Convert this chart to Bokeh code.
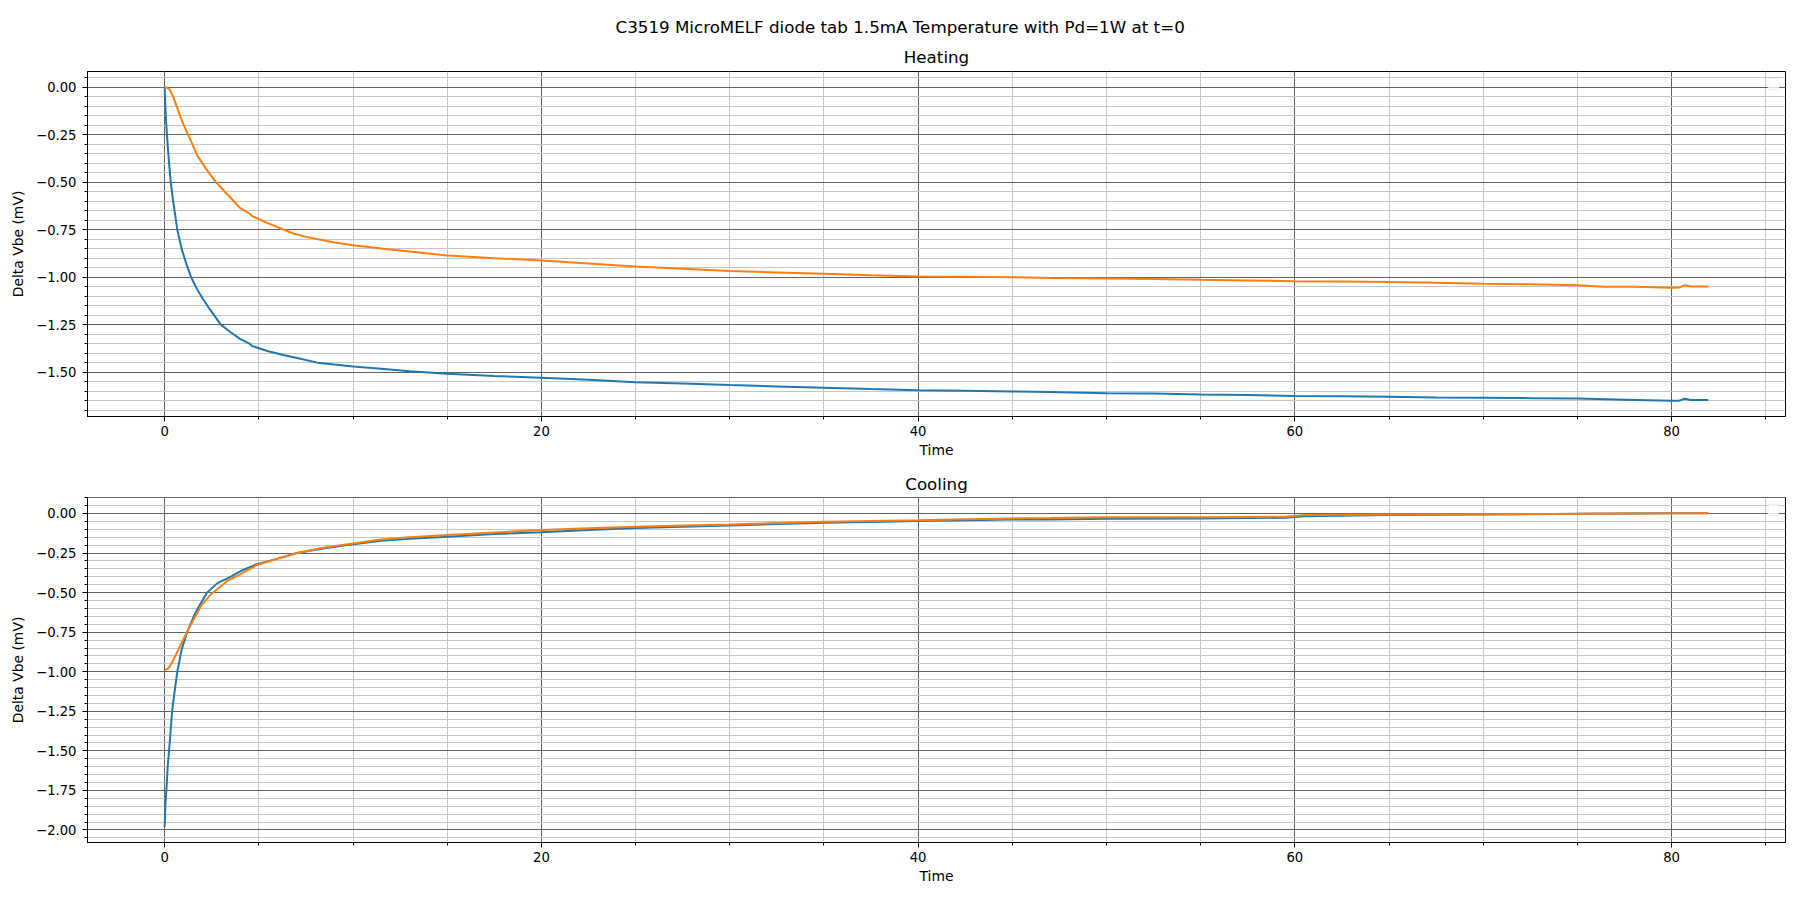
from bokeh.plotting import figure
from bokeh.layouts import column
from bokeh.models import (Title, Range1d, SingleIntervalTicker, CustomJSTickFormatter,
                          BoxAnnotation)
from bokeh.embed import file_html
from bokeh.resources import INLINE

SUPTITLE = "C3519 MicroMELF diode tab 1.5mA Temperature with Pd=1W at t=0"
TITLES = ["Heating", "Cooling"]
XLABEL = "Time"
YLABEL = "Delta Vbe (mV)"

# ---- Heating, blue series ----
heat_blue_t = [0, 0.03, 0.07, 0.12, 0.2, 0.32, 0.45, 0.67, 0.9, 1.15, 1.4, 1.7, 2.0, 2.4,
               2.98, 3.5, 4.0, 4.5, 4.65, 5.5, 6.3, 7.2, 8.1, 9.0, 10.0, 11.5, 13, 15, 17.5,
               20, 22.5, 25, 27.5, 30, 32.5, 35, 37.5, 40, 42.5, 45, 47, 50, 52.5, 55, 57.5,
               60, 62.5, 65, 67.5, 70, 72.5, 75, 77.5, 80, 80.4, 80.7, 81.0, 81.95]
heat_blue_v = [0, -0.09, -0.17, -0.25, -0.36, -0.5, -0.6, -0.75, -0.85, -0.93, -1.0, -1.06,
               -1.11, -1.17, -1.25, -1.29, -1.325, -1.35, -1.363, -1.39, -1.41, -1.43, -1.45,
               -1.46, -1.47, -1.482, -1.495, -1.509, -1.52, -1.53, -1.54, -1.553, -1.56,
               -1.568, -1.575, -1.582, -1.589, -1.595, -1.598, -1.602, -1.605, -1.611,
               -1.613, -1.618, -1.621, -1.625, -1.627, -1.630, -1.633, -1.635, -1.637,
               -1.639, -1.645, -1.651, -1.650, -1.640, -1.647, -1.647]

# ---- Heating, orange series ----
heat_orange_t = [0, 0.15, 0.26, 0.44, 0.7, 0.96, 1.26, 1.75, 2.2, 2.72, 3.33, 4.0, 4.5, 4.65,
                 5.44, 6.3, 6.84, 7.5, 8.95, 10, 11.5, 13, 15, 17.5, 20, 22.5, 25, 27.5, 30,
                 32.5, 35, 37.5, 40, 42.5, 45, 47, 50, 52.5, 55, 57.5, 60, 62.5, 65, 67.5,
                 70, 72.5, 75, 76.4, 78, 80, 80.4, 80.7, 81, 81.95]
heat_orange_v = [0, -0.003, -0.012, -0.047, -0.118, -0.188, -0.254, -0.363, -0.43, -0.5,
                 -0.565, -0.635, -0.665, -0.679, -0.714, -0.749, -0.77, -0.788, -0.816,
                 -0.832, -0.849, -0.865, -0.886, -0.90, -0.912, -0.928, -0.944, -0.956,
                 -0.968, -0.975, -0.982, -0.99, -0.996, -0.998, -1.0, -1.004, -1.007, -1.01,
                 -1.014, -1.017, -1.021, -1.023, -1.026, -1.03, -1.035, -1.038, -1.042,
                 -1.05, -1.051, -1.056, -1.055, -1.042, -1.049, -1.049]

# ---- Cooling, blue series ----
cool_blue_t = [0, 0.02, 0.05, 0.1, 0.16, 0.23, 0.3, 0.39, 0.5, 0.67, 0.9, 1.19, 1.58, 1.9,
               2.25, 2.8, 3.42, 4.1, 4.91, 6.0, 7.02, 8.5, 10, 11.5, 13, 15, 17.5, 20, 22.5,
               25, 27.5, 30, 32.5, 35, 37.5, 40, 42.5, 45, 47, 50, 55, 59.5, 60.5, 65, 70,
               75, 80, 81.95]
cool_blue_v = [-1.98, -1.9, -1.82, -1.73, -1.6, -1.5, -1.4, -1.25, -1.15, -1.0, -0.86,
               -0.75, -0.64, -0.57, -0.5, -0.44, -0.405, -0.36, -0.32, -0.285, -0.25,
               -0.22, -0.195, -0.172, -0.16, -0.147, -0.13, -0.118, -0.104, -0.092, -0.084,
               -0.076, -0.067, -0.059, -0.053, -0.048, -0.042, -0.038, -0.038, -0.033,
               -0.031, -0.027, -0.017, -0.01, -0.006, -0.002, 0.002, 0.002]

# ---- Cooling, orange series ----
cool_orange_t = [0, 0.1, 0.18, 0.3, 0.44, 0.7, 1.05, 1.4, 1.93, 2.46, 3.33, 4.0, 4.91, 6.0,
                 7.02, 8.5, 10, 11.5, 13, 15, 17.5, 20, 22.5, 25, 27.5, 30, 32.5, 35, 37.5,
                 40, 42.5, 45, 47, 50, 55, 59.5, 60.5, 65, 70, 75, 80, 81.95]
cool_orange_v = [-0.987, -0.985, -0.98, -0.96, -0.93, -0.867, -0.78, -0.70, -0.584, -0.51,
                 -0.426, -0.384, -0.325, -0.285, -0.25, -0.215, -0.19, -0.164, -0.15,
                 -0.136, -0.12, -0.105, -0.094, -0.084, -0.076, -0.069, -0.06, -0.052,
                 -0.047, -0.042, -0.036, -0.031, -0.029, -0.023, -0.023, -0.02, -0.01,
                 -0.006, -0.004, -0.002, 0.002, 0.002]

BLUE = "#1f77b4"
ORANGE = "#ff7f0e"
FONT = "DejaVu Sans"

yfmt_code = """
var s = Math.abs(tick) < 1e-9 ? (0).toFixed(2) : tick.toFixed(2);
return s.replace('-', '\\u2212');
"""

FIG_W = 1796
BORDER_L = 87
BORDER_R = 11
FRAME_W = FIG_W - BORDER_L - BORDER_R


def padded(vals_list):
    lo = min(min(v) for v in vals_list)
    hi = max(max(v) for v in vals_list)
    pad = (hi - lo) * 0.05
    return lo - pad, hi + pad


def make_fig(height, min_top, min_bottom, series):
    xs = [s[0] for s in series]
    ys = [s[1] for s in series]
    x0, x1 = padded(xs)
    y0, y1 = padded(ys)
    p = figure(width=FIG_W, height=height, output_backend="svg", toolbar_location=None,
               x_range=Range1d(x0, x1), y_range=Range1d(y0, y1),
               min_border_left=BORDER_L, min_border_right=BORDER_R,
               min_border_top=min_top, min_border_bottom=min_bottom,
               title=None)
    p.background_fill_color = "white"
    p.border_fill_color = "white"
    p.outline_line_color = "black"
    p.outline_line_width = 1
    p.outline_line_alpha = 1

    p.xaxis.ticker = SingleIntervalTicker(interval=20, num_minor_ticks=4)
    p.yaxis.ticker = SingleIntervalTicker(interval=0.25, num_minor_ticks=5)
    p.yaxis.formatter = CustomJSTickFormatter(code=yfmt_code)

    for ax in (p.xaxis[0], p.yaxis[0]):
        ax.axis_line_color = "black"
        ax.major_tick_line_color = "black"
        ax.minor_tick_line_color = "black"
        ax.major_tick_out = 5
        ax.major_tick_in = 0
        ax.minor_tick_out = 3
        ax.minor_tick_in = 0
        ax.major_label_text_font = FONT
        ax.major_label_text_font_size = "13.2px"
        ax.major_label_text_color = "black"
        ax.axis_label_text_font = FONT
        ax.axis_label_text_font_size = "13.9px"
        ax.axis_label_text_font_style = "normal"
        ax.axis_label_text_color = "black"
    p.xaxis.axis_label = XLABEL
    p.yaxis.axis_label = YLABEL
    p.xaxis.major_label_standoff = 4
    p.xaxis.axis_label_standoff = 3
    p.yaxis.major_label_standoff = 6
    p.yaxis.axis_label_standoff = 7

    for g in (p.xgrid[0], p.ygrid[0]):
        g.grid_line_color = "#636363"
        g.grid_line_width = 1
        g.minor_grid_line_color = "#c6c6c6"
        g.minor_grid_line_width = 1

    for (t, v), c in zip(series, [BLUE, ORANGE]):
        p.line(t, v, line_color=c, line_width=2)

    # empty legend frame (matplotlib legend without handles), top-right
    frame_h = height - min_top - min_bottom
    wx = (x1 - x0) / FRAME_W
    wy = (y1 - y0) / frame_h
    p.add_layout(BoxAnnotation(left=x1 - 17.5 * wx, right=x1 - 6.5 * wx,
                               top=y1 - 7 * wy, bottom=y1 - 18 * wy,
                               fill_color="white", fill_alpha=0.8,
                               line_color="#cccccc", line_width=1,
                               border_radius=2, level="overlay"))
    return p


p1 = make_fig(466, 71, 50, [(heat_blue_t, heat_blue_v), (heat_orange_t, heat_orange_v)])
p2 = make_fig(422, 31, 46, [(cool_blue_t, cool_blue_v), (cool_orange_t, cool_orange_v)])

t1 = Title(text=TITLES[0], align="center", text_font=FONT, text_font_size="16.7px",
           text_font_style="normal", text_color="black", standoff=9)
# figure-wide title: centred on the whole page, not on the axes frame
ts = Title(text=SUPTITLE, align="left", offset=528, text_font=FONT,
           text_font_size="16.7px", text_font_style="normal", text_color="black",
           standoff=7)
p1.add_layout(t1, "above")
p1.add_layout(ts, "above")

t2 = Title(text=TITLES[1], align="center", text_font=FONT, text_font_size="16.7px",
           text_font_style="normal", text_color="black", standoff=8)
p2.add_layout(t2, "above")

layout = column(p1, p2, spacing=0)
open("out.html", "w").write(file_html(layout, INLINE))
